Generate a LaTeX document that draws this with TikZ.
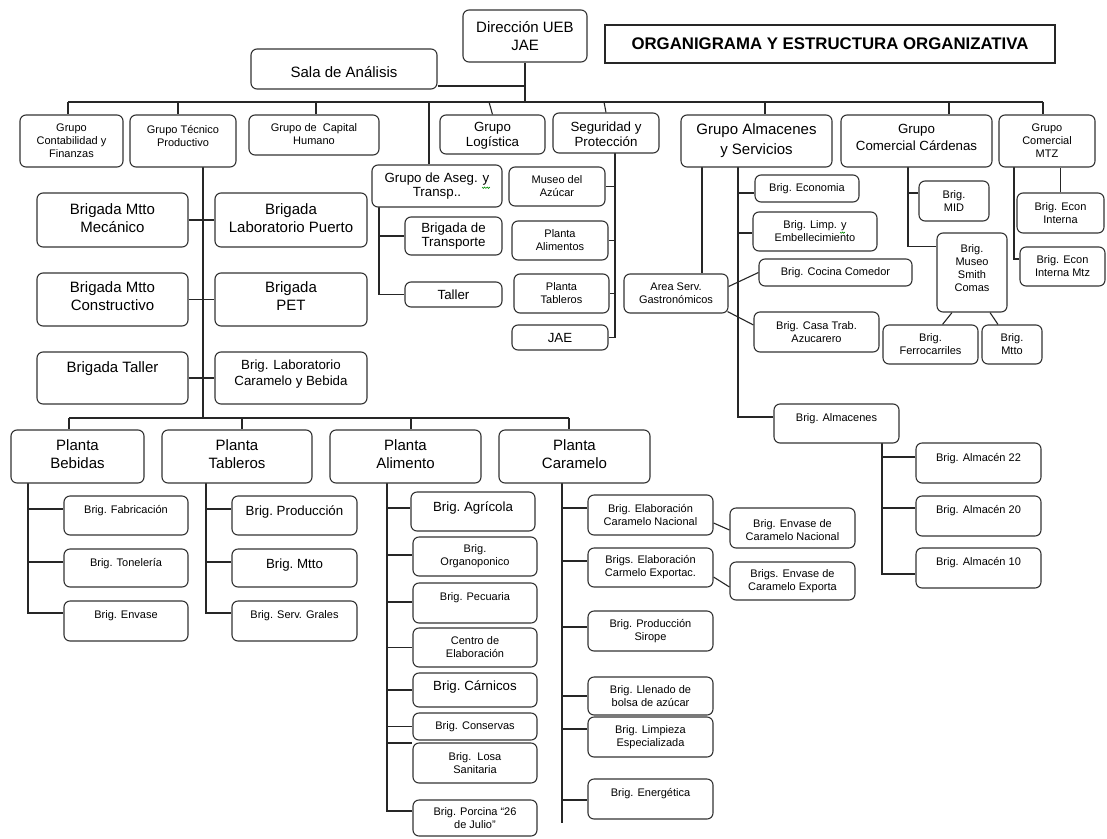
\documentclass[tikz,border=0pt]{standalone}
\usepackage{fontspec}
\setmainfont{Liberation Sans}
\usetikzlibrary{fit,calc}
\pgfdeclarelayer{bg}
\pgfsetlayers{bg,main}
\tikzset{
  box/.style={draw=black!80, line width=1.1pt, rounded corners=6pt, fill=white, inner sep=0pt},
  sqbox/.style={draw=black!85, line width=1.1pt, fill=white, inner sep=0pt},
  ln/.style={line width=1.1pt, draw=black!85},
  tb/.style={inner sep=0pt, align=center, font=\fontsize{15}{18}\selectfont},
  tm/.style={inner sep=0pt, align=center, font=\fontsize{13.3}{14.5}\selectfont},
  ts/.style={inner sep=0pt, align=center, font=\fontsize{11}{13}\selectfont},
  ttl/.style={inner sep=0pt, align=center, font=\fontsize{16.8}{19}\selectfont\bfseries},
  squig/.style={draw=green!55!black, line width=0.6pt},
}
% style, name, x1, y1, x2, y2, text yshift, text
\newcommand\obox[8]{%
  \node[box, fit={(#3,#4)(#5,#6)}] (#2) {};
  \node[#1] (#2-t) at ([yshift=#7pt]#2.center) {#8};}
\begin{document}
\begin{tikzpicture}[x=1pt, y=-1pt]
\useasboundingbox (0,0) rectangle (1107,838);
\begin{pgfonlayer}{bg}
\fill[white] (0,0) rectangle (1107,838);
\end{pgfonlayer}

% ---------- top ----------
\obox{tb}{dir}{463}{10}{587}{62}{0}{Dirección UEB\\JAE}
\node[sqbox, fit={(605,25)(1055,63)}] (title) {};
\node[ttl] (title-t) at (title.center) {ORGANIGRAMA Y ESTRUCTURA ORGANIZATIVA};
\obox{tb}{sala}{251}{49}{437}{89}{-3}{Sala de Análisis}

% ---------- row 2 ----------
\obox{ts}{conta}{20}{115}{123}{167}{0}{Grupo\\Contabilidad y\\Finanzas}
\obox{ts}{tec}{130}{115}{236}{167}{5}{Grupo Técnico\\Productivo}
\obox{ts}{cap}{249}{115}{379}{155}{1}{Grupo de\ \ Capital\\Humano}
\obox{tm}{logi}{440}{115}{545}{154}{-1}{Grupo\\Logística}
\obox{tm}{seg}{553}{113}{659}{153}{-1}{Seguridad y\\Protección}
\obox{tb}{alm}{681}{115}{832}{167}{0}{Grupo Almacenes\\[2pt]y Servicios}
\obox{tm}{car}{841}{115}{992}{167}{4}{Grupo\\[2.5pt]Comercial Cárdenas}
\obox{ts}{mtz}{999}{115}{1095}{167}{0}{Grupo\\Comercial\\MTZ}

% ---------- aseguramiento ----------
\obox{tm}{aseg}{372}{165}{502}{207}{0}{Grupo de Aseg. y\\Transp..}
\obox{tm}{trn}{405}{217}{502}{255}{0}{Brigada de\\Transporte}
\obox{tm}{tal}{405}{282}{502}{307}{0}{Taller}

% ---------- seguridad children ----------
\obox{ts}{mus}{509}{167}{605}{206}{0}{Museo del\\Azúcar}
\obox{ts}{pal}{512}{221}{608}{260}{0}{Planta\\Alimentos}
\obox{ts}{pta}{514}{274}{609}{313}{0}{Planta\\Tableros}
\obox{tm}{jae}{512}{325}{608}{350}{0}{JAE}

% ---------- tecnico productivo ----------
\obox{tb}{mmec}{37}{193}{188}{247}{2}{Brigada Mtto\\Mecánico}
\obox{tb}{lpue}{215}{193}{367}{247}{2}{Brigada\\Laboratorio Puerto}
\obox{tb}{mcon}{37}{273}{188}{326}{3}{Brigada Mtto\\Constructivo}
\obox{tb}{pet}{215}{273}{367}{326}{3}{Brigada\\PET}
\obox{tb}{btal}{37}{352}{188}{404}{9}{Brigada Taller}
\obox{tm}{lcar}{215}{352}{367}{404}{4}{Brig. Laboratorio\\[2pt]Caramelo y Bebida}

% ---------- plantas ----------
\obox{tb}{pbeb}{11}{430}{144}{483}{2.5}{Planta\\Bebidas}
\obox{tb}{ptab}{162}{430}{312}{483}{2.5}{Planta\\Tableros}
\obox{tb}{pali}{330}{430}{481}{483}{2.5}{Planta\\Alimento}
\obox{tb}{pcar}{499}{430}{650}{483}{2.5}{Planta\\Caramelo}

% bebidas
\obox{ts}{fab}{64}{496}{188}{535}{4.5}{Brig. Fabricación}
\obox{ts}{ton}{64}{549}{188}{587}{4}{Brig. Tonelería}
\obox{ts}{env}{64}{601}{188}{641}{5}{Brig. Envase}
% tableros
\obox{tm}{pro}{232}{496}{357}{535}{3.5}{Brig.\ Producción}
\obox{tm}{mtt}{232}{549}{357}{587}{3}{Brig.\ Mtto}
\obox{ts}{ser}{232}{601}{357}{641}{5}{Brig. Serv. Grales}
% alimento
\obox{tm}{agr}{411}{492}{535}{531}{3.5}{Brig.\ Agrícola}
\obox{ts}{org}{413}{537}{537}{576}{0}{Brig.\\Organoponico}
\obox{ts}{pec}{413}{583}{537}{623}{5}{Brig. Pecuaria}
\obox{ts}{cen}{413}{628}{537}{667}{0}{Centro de\\Elaboración}
\obox{tm}{carn}{413}{673}{537}{707}{3}{Brig.\ Cárnicos}
\obox{ts}{con}{413}{713}{537}{740}{0}{Brig. Conservas}
\obox{ts}{los}{413}{743}{537}{783}{0}{Brig.\ \ Losa\\Sanitaria}
\obox{ts}{por}{413}{800}{537}{836}{0}{Brig. Porcina “26\\de Julio”}
% caramelo
\obox{ts}{eln}{588}{495}{713}{535}{0}{Brig. Elaboración\\Caramelo Nacional}
\obox{ts}{enn}{730}{508}{855}{548}{-2}{Brig. Envase de\\Caramelo Nacional}
\obox{ts}{ele}{588}{548}{713}{587}{0}{Brigs. Elaboración\\Carmelo Exportac.}
\obox{ts}{ene}{730}{562}{855}{600}{0}{Brigs. Envase de\\Caramelo Exporta}
\obox{ts}{sir}{588}{611}{713}{651}{0}{Brig. Producción\\Sirope}
\obox{ts}{lle}{588}{677}{713}{715}{0}{Brig. Llenado de\\bolsa de azúcar}
\obox{ts}{lim}{588}{717}{713}{757}{0}{Brig. Limpieza\\Especializada}
\obox{ts}{ene2}{588}{779}{713}{819}{5}{Brig. Energética}

% ---------- almacenes y servicios ----------
\obox{ts}{eco}{755}{175}{859}{202}{0}{Brig. Economia}
\obox{ts}{lmp}{753}{212}{877}{251}{0}{Brig. Limp. y\\Embellecimiento}
\obox{ts}{coc}{759}{259}{912}{286}{0}{Brig. Cocina Comedor}
\obox{ts}{area}{624}{274}{728}{313}{0}{Area Serv.\\Gastronómicos}
\obox{ts}{cas}{754}{312}{879}{352}{0}{Brig. Casa Trab.\\Azucarero}
\obox{ts}{bal}{774}{404}{899}{443}{4.5}{Brig. Almacenes}
\obox{ts}{a22}{916}{443}{1041}{483}{4}{Brig. Almacén 22}
\obox{ts}{a20}{916}{496}{1041}{536}{5}{Brig. Almacén 20}
\obox{ts}{a10}{916}{548}{1041}{588}{5}{Brig. Almacén 10}

% ---------- comercial ----------
\obox{ts}{mid}{919}{181}{989}{221}{0}{Brig.\\MID}
\obox{ts}{msc}{937}{233}{1007}{312}{4}{Brig.\\Museo\\Smith\\Comas}
\obox{ts}{fer}{883}{325}{978}{364}{0}{Brig.\\Ferrocarriles}
\obox{ts}{mtc}{982}{325}{1042}{364}{0}{Brig.\\Mtto}
\obox{ts}{ei}{1017}{193}{1104}{233}{0}{Brig. Econ\\Interna}
\obox{ts}{eim}{1020}{247}{1105}{286}{0}{Brig. Econ\\Interna Mtz}

% ================= connectors (behind the boxes) =================
\begin{pgfonlayer}{bg}
\coordinate (b1a) at (68,102);
\coordinate (b1tec) at (178,102);
\coordinate (b1cap) at (316,102);
\coordinate (b1ase) at (429,102);
\coordinate (b1log) at (489,102);
\coordinate (b1seg) at (604,102);
\coordinate (b1alm) at (765,102);
\coordinate (b1car) at (949,102);
\coordinate (b1mtz) at (1043,102);
\draw[ln] (b1a) -- (b1mtz);
\draw[ln] (dir.south) -- (dir.south |- b1a);
\coordinate (salaC) at ([yshift=-17pt]sala.east);
\draw[ln] (salaC) -- (salaC -| dir.south);
\draw[ln] (b1a) -- (b1a |- conta.north);
\draw[ln] (b1tec) -- (b1tec |- tec.north);
\draw[ln] (b1cap) -- (b1cap |- cap.north);
\draw[ln] (b1ase) -- (b1ase |- aseg.north);
\draw[ln] (b1log) -- (logi.north);
\draw[ln] (b1seg) -- (seg.north);
\draw[ln] (b1alm) -- (b1alm |- alm.north);
\draw[ln] (b1car) -- (b1car |- car.north);
\draw[ln] (b1mtz) -- (b1mtz |- mtz.north);

% tecnico productivo
\coordinate (tecT) at (203,167);
\coordinate (b2a) at (69,418);
\coordinate (b2tab) at (242,418);
\coordinate (b2ali) at (411,418);
\coordinate (b2car) at (569,418);
\draw[ln] (tecT) -- (tecT |- b2a);
\draw[ln] (mmec.east) -- (lpue.west);
\draw[ln] (mcon.east) -- (pet.west);
\draw[ln] (btal.east) -- (lcar.west);
\draw[ln] (b2a) -- (b2car);
\draw[ln] (b2a) -- (b2a |- pbeb.north);
\draw[ln] (b2tab) -- (b2tab |- ptab.north);
\draw[ln] (b2ali) -- (b2ali |- pali.north);
\draw[ln] (b2car) -- (b2car |- pcar.north);

% aseguramiento
\coordinate (aseT) at (379,207);
\draw[ln] (aseT) |- (trn.west);
\draw[ln] (aseT) |- (tal.west);

% seguridad
\coordinate (segT) at (615,153);
\draw[ln] (segT) |- (mus.east);
\draw[ln] (segT) |- (pal.east);
\draw[ln] (segT) |- (pta.east);
\draw[ln] (segT) |- (jae.east);

% almacenes y servicios
\coordinate (almA) at (702,167);
\coordinate (almB) at (738,167);
\draw[ln] (almA) -- (almA |- area.north);
\draw[ln] (almB) |- ([yshift=-4.5pt]eco.west);
\draw[ln] (almB) |- ([yshift=-1.5pt]lmp.west);
\draw[ln] (almB) |- ([yshift=6.5pt]bal.west);
\draw[ln] ([yshift=7pt]area.east) -- (coc.west);
\draw[ln] ([xshift=-1pt,yshift=2pt]area.south east) -- ([yshift=7pt]cas.west);
\coordinate (balT) at (882,443);
\draw[ln] (balT) |- ([yshift=6pt]a22.west);
\draw[ln] (balT) |- ([yshift=8pt]a20.west);
\draw[ln] (balT) |- ([yshift=-6pt]a10.west);

% comercial cardenas
\coordinate (carT) at (908,167);
\draw[ln] (carT) |- ([yshift=8pt]mid.west);
\draw[ln] (carT) |- ([yshift=26pt]msc.west);
\draw[ln] ([xshift=-20pt]msc.south) -- ([xshift=12pt]fer.north);
\draw[ln] ([xshift=18pt]msc.south) -- ([xshift=-14pt]mtc.north);

% comercial mtz
\coordinate (mtzT) at (1014,167);
\draw[ln] (mtzT) |- ([yshift=7.5pt]eim.west);
\draw[ln] (ei.north) -- (ei.north |- mtz.south);

% plantas
\coordinate (bebT) at (28,483);
\draw[ln] (bebT) |- ([yshift=6.5pt]fab.west);
\draw[ln] (bebT) |- ([yshift=6pt]ton.west);
\draw[ln] (bebT) |- ([yshift=8pt]env.west);
\coordinate (tabT) at (206,483);
\draw[ln] (tabT) |- ([yshift=6.5pt]pro.west);
\draw[ln] (tabT) |- ([yshift=6pt]mtt.west);
\draw[ln] (tabT) |- ([yshift=8pt]ser.west);
\coordinate (aliT) at (387,483);
\draw[ln] (aliT) |- ([yshift=3.5pt]agr.west);
\draw[ln] (aliT) |- ([yshift=1.5pt]org.west);
\draw[ln] (aliT) |- ([yshift=1pt]pec.west);
\draw[ln] (aliT) |- (cen.west);
\draw[ln] (aliT) |- (carn.west);
\draw[ln] (aliT) |- (con.west);
\draw[ln] (aliT) |- ([yshift=20pt]los.west);
\draw[ln] (aliT) |- ([yshift=7pt]por.west);
\coordinate (carT2) at (562,483);
\coordinate (carB) at (562,823);
\draw[ln] (carT2) -- (carB);
\draw[ln] (carT2) |- ([yshift=7pt]eln.west);
\draw[ln] (carT2) |- ([yshift=6.5pt]ele.west);
\draw[ln] (carT2) |- ([yshift=4pt]sir.west);
\draw[ln] (carT2) |- (lle.west);
\draw[ln] (carT2) |- ([yshift=8pt]lim.west);
\draw[ln] (carT2) |- ([yshift=-1pt]ene2.west);
\draw[ln] ([yshift=-8pt]eln.east) -- ([yshift=-2pt]enn.west);
\draw[ln] ([yshift=-9.5pt]ele.east) -- ([yshift=-6pt]ene.west);
\end{pgfonlayer}

% spell-check squiggles
\draw[squig] (482,187) -- ++(1.3,1.4) -- ++(1.3,-1.4) -- ++(1.3,1.4) -- ++(1.3,-1.4) -- ++(1.3,1.4) -- ++(1.3,-1.4);
\draw[squig] (840,232) -- ++(1.2,1.3) -- ++(1.2,-1.3) -- ++(1.2,1.3) -- ++(1.2,-1.3);
\end{tikzpicture}
\end{document}
